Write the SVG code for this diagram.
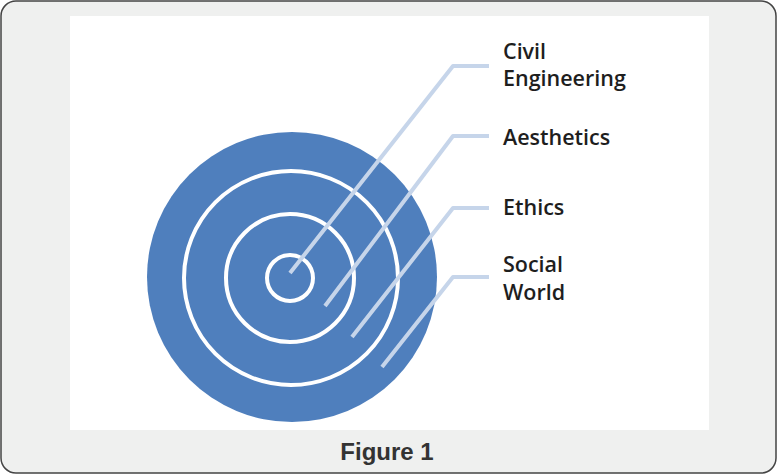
<svg xmlns="http://www.w3.org/2000/svg" width="778" height="475" viewBox="0 0 778 475">
<style>
.lbl{font-family:"Open Sans","Noto Sans",sans-serif;font-weight:600;font-size:21.5px;fill:#1e1e1e}
.ring{fill:none;stroke:#fff;stroke-width:4}
.lead{fill:none;stroke:#c6d5ea;stroke-width:4;stroke-linejoin:round}
.cap{font-family:"Liberation Sans",Arial,sans-serif;font-weight:bold;font-size:24px;fill:#333}
</style>
<rect x="1" y="1" width="775" height="472" rx="15" ry="15" fill="#eff0ef" stroke="#444" stroke-width="1.5"/>
<rect x="70" y="16" width="639" height="414" fill="#fff"/>
<g id="target">
<circle cx="292" cy="277" r="145" fill="#4f7fbd"/>
<circle class="ring" cx="291" cy="278" r="107"/>
<circle class="ring" cx="290" cy="278" r="64"/>
<circle class="ring" cx="290" cy="278" r="23"/>
</g>
<g id="connectors">
<polyline class="lead" points="290,273 453,66 489,66"/>
<polyline class="lead" points="325,306 453,136 489,136"/>
<polyline class="lead" points="352,337 453,208 489,208"/>
<polyline class="lead" points="382,367 453,277 489,277"/>
</g>
<g id="civil"><text class="lbl" x="503" y="59">Civil</text><text class="lbl" x="503" y="86">Engineering</text></g>
<g id="aesthetics"><text class="lbl" x="503" y="145">Aesthetics</text></g>
<g id="ethics"><text class="lbl" x="503" y="215">Ethics</text></g>
<g id="social"><text class="lbl" x="503" y="272">Social</text><text class="lbl" x="503" y="300">World</text></g>
<text class="cap" x="387" y="460" text-anchor="middle">Figure 1</text>
</svg>
